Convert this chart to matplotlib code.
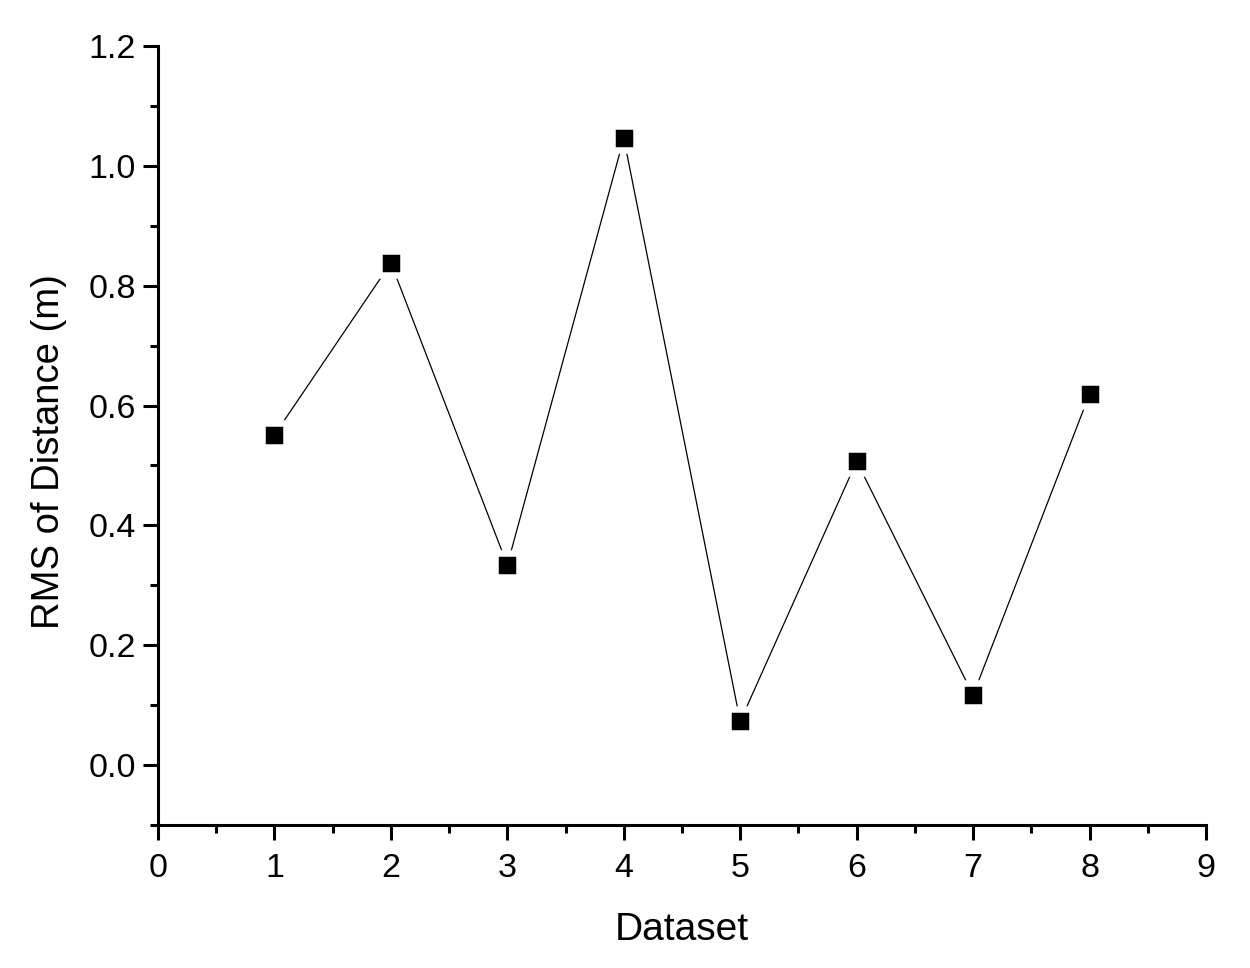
import numpy as np
import matplotlib
matplotlib.use('Agg')
import matplotlib.pyplot as plt
from matplotlib.ticker import MultipleLocator, FormatStrFormatter

plt.rcParams['font.family'] = ['Liberation Sans', 'DejaVu Sans']

# RMS values
datasets = [1, 2, 3, 4, 5, 6, 7, 8]
rms_distance = [0.551, 0.838, 0.334, 1.046, 0.073, 0.507, 0.117, 0.619]

fig = plt.figure(figsize=(12.5, 9.68), dpi=100)
ax = fig.add_axes([0.1264, 0.1477, 0.8384, 0.8048])

# white marker edge gives the small gap between line and marker
ax.plot(datasets, rms_distance, color='black', linewidth=0.9,
        marker='s', markersize=17, markerfacecolor='black',
        markeredgecolor='white', markeredgewidth=4.7)

ax.set_xlim(0, 9)
ax.set_ylim(-0.1, 1.2)
ax.xaxis.set_major_locator(MultipleLocator(1))
ax.xaxis.set_minor_locator(MultipleLocator(0.5))
ax.yaxis.set_major_locator(MultipleLocator(0.2))
ax.yaxis.set_minor_locator(MultipleLocator(0.1))
ax.yaxis.set_major_formatter(FormatStrFormatter('%.1f'))

for side in ['top', 'right']:
    ax.spines[side].set_visible(False)
for side in ['left', 'bottom']:
    ax.spines[side].set_linewidth(2.2)

ax.tick_params(which='major', direction='out', length=11, width=2.2, labelsize=24.5)
ax.tick_params(which='minor', direction='out', length=6, width=2.2)
ax.tick_params(axis='x', which='major', pad=9)
ax.tick_params(axis='y', which='major', pad=5)

ax.set_xlabel('Dataset', fontsize=28)
ax.set_ylabel('RMS of Distance (m)', fontsize=27.5)
ax.xaxis.set_label_coords(0.5, -0.112)
ax.yaxis.set_label_coords(-0.087, 0.479)

fig.savefig('out.png', dpi=100)
